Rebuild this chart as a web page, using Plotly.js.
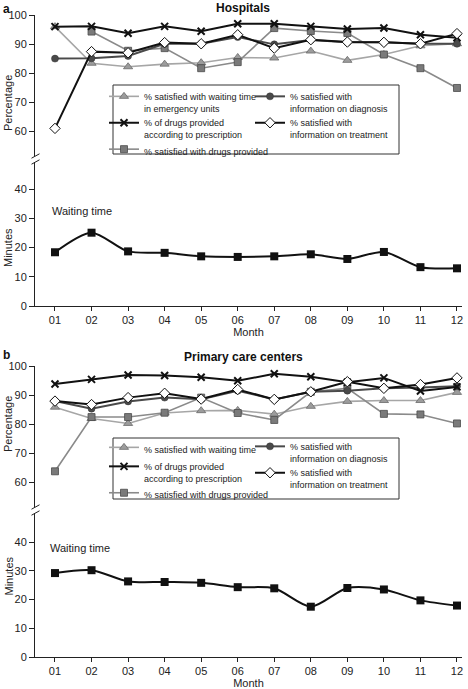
<!DOCTYPE html>
<html>
<head>
<meta charset="utf-8">
<script src="https://cdn.plot.ly/plotly-3.0.1.min.js"></script>
<style>html,body{margin:0;padding:0;background:#fff;}#chart{width:468px;height:689px;}</style>
</head>
<body>
<div id="chart"></div>
<script>
// ---------- data ----------
const months = ["01","02","03","04","05","06","07","08","09","10","11","12"];
const pctTicks = [60, 70, 80, 90, 100];
const minTicks = [0, 10, 20, 30, 40];

// Panel a: Hospitals
const hospWaitSat    = [96.0, 83.4, 82.2, 83.1, 83.6, 85.4, 85.2, 87.6, 84.4, 86.4, 89.4, 90.1];
const hospDrugsPresc = [96.0, 96.1, 93.7, 96.1, 94.4, 97.0, 97.0, 96.1, 95.2, 95.5, 93.2, 92.2];
const hospInfoDiag   = [85.0, 85.1, 85.9, 90.1, 90.1, 92.4, 89.9, 91.4, 90.6, 90.6, 90.1, 90.1];
const hospInfoTreat  = [61.0, 87.4, 87.0, 90.5, 90.1, 93.2, 88.6, 91.5, 90.7, 90.6, 90.1, 93.6];
const hospDrugsSat   = [null, 94.3, 87.7, 88.6, 81.7, 83.8, 95.5, 94.5, 93.8, 86.4, 81.7, 74.9];
const hospWaitMin    = [18.4, 25.1, 18.7, 18.2, 17.0, 16.8, 17.0, 17.7, 16.1, 18.5, 13.3, 12.9];

// Panel b: Primary care centers
const pccWaitSat     = [85.8, 81.9, 80.2, 83.8, 84.6, 84.7, 83.4, 86.1, 87.8, 88.1, 88.1, 90.9];
const pccDrugsPresc  = [93.8, 95.4, 96.9, 96.7, 96.1, 94.9, 97.3, 96.3, 94.4, 95.9, 91.4, 92.8];
const pccInfoDiag    = [87.9, 85.3, 87.8, 89.1, 88.5, 91.5, 88.5, 91.1, 91.5, 92.3, 92.6, 93.0];
const pccInfoTreat   = [87.9, 86.7, 89.1, 90.6, 88.6, 91.9, 88.5, 91.1, 94.6, 92.3, 93.6, 95.9];
const pccDrugsSat    = [63.7, 82.4, 82.4, 83.9, 89.1, 83.8, 81.4, 91.1, 92.3, 83.5, 83.3, 80.2];
const pccWaitMin     = [29.2, 30.2, 26.3, 26.1, 25.8, 24.3, 23.9, 17.5, 24.0, 23.5, 19.7, 17.9];

// labels
const lblWaitA  = "% satisfied with waiting time<br>in emergency units";
const lblWaitB  = "% satisfied with waiting time";
const lblPresc  = "% of drugs provided<br>according to prescription";
const lblDrugs  = "% satisfied with drugs provided";
const lblDiag   = "% satisfied with<br>information on diagnosis";
const lblTreat  = "% satisfied with<br>information on treatment";

// ---------- geometry helpers ----------
const W = 468, H = 689, ML = 35, MR = 6;
const PW = W - ML - MR;
const px = x => (x - ML) / PW;
const py = y => 1 - y / H;

const FONT = "'Liberation Sans', Arial, sans-serif";

const styles = {
  wait:  {mode:"lines+markers", line:{color:"#a6a6a6", width:1.6},
          marker:{symbol:"triangle-up", size:8, color:"#9c9c9c", line:{color:"#6a6a6a", width:0.8}}},
  drugs: {mode:"lines+markers", line:{color:"#8a8a8a", width:1.6},
          marker:{symbol:"square", size:7, color:"#7a7a7a", line:{color:"#4a4a4a", width:0.8}}},
  diag:  {mode:"lines+markers", line:{color:"#4a4a4a", width:2},
          marker:{symbol:"circle", size:7, color:"#4a4a4a", line:{color:"#333", width:0.5}}},
  presc: {mode:"lines+markers", line:{color:"#111", width:2},
          marker:{symbol:"x-thin", size:7, color:"#111", line:{color:"#111", width:2}}},
  treat: {mode:"lines+markers", line:{color:"#111", width:2},
          marker:{symbol:"diamond", size:8, color:"#fff", line:{color:"#111", width:1}}}
};

function tr(style, y, name, xa, ya, legend, rank) {
  return Object.assign({}, JSON.parse(JSON.stringify(style)), {
    x: months, y: y, name: name, xaxis: xa, yaxis: ya,
    legend: legend, legendrank: rank, cliponaxis: false, hoverinfo: "skip"
  });
}
function minTrace(y, xa, ya) {
  return {x: months, y: y, xaxis: xa, yaxis: ya, mode: "lines+markers", showlegend: false,
    line: {color: "#111", width: 2, shape: "spline", smoothing: 0.8},
    marker: {symbol: "square", size: 8, color: "#111"}, cliponaxis: false, hoverinfo: "skip"};
}

const data = [
  tr(styles.wait,  hospWaitSat,    lblWaitA, "x", "y", "legend", 1),
  tr(styles.drugs, hospDrugsSat,   lblDrugs, "x", "y", "legend", 3),
  tr(styles.diag,  hospInfoDiag,   lblDiag,  "x", "y", "legend2", 1),
  tr(styles.presc, hospDrugsPresc, lblPresc, "x", "y", "legend", 2),
  tr(styles.treat, hospInfoTreat,  lblTreat, "x", "y", "legend2", 2),
  minTrace(hospWaitMin, "x", "y2"),
  tr(styles.wait,  pccWaitSat,     lblWaitB, "x2", "y3", "legend3", 1),
  tr(styles.drugs, pccDrugsSat,    lblDrugs, "x2", "y3", "legend3", 3),
  tr(styles.diag,  pccInfoDiag,    lblDiag,  "x2", "y3", "legend4", 1),
  tr(styles.presc, pccDrugsPresc,  lblPresc, "x2", "y3", "legend3", 2),
  tr(styles.treat, pccInfoTreat,   lblTreat, "x2", "y3", "legend4", 2),
  minTrace(pccWaitMin, "x2", "y4")
];

const tickFont = {family: FONT, size: 11, color: "#222"};
function xAx(anchor) {
  return {domain:[0,1], anchor: anchor, type:"category", range:[-0.547, 11.137],
    showline:true, linecolor:"#222", linewidth:1, ticks:"outside", ticklen:4, tickcolor:"#222",
    showgrid:false, zeroline:false, tickfont: tickFont, fixedrange:true,
    title:{text:"Month", font:{family:FONT, size:11, color:"#222"}, standoff:1}};
}
function yAx(domain, range, tickvals) {
  return {domain: domain, anchor:"x", range: range, tickvals: tickvals,
    showline:true, linecolor:"#222", linewidth:1, ticks:"outside", ticklen:5, tickcolor:"#222",
    showgrid:false, zeroline:false, tickfont: tickFont, fixedrange:true};
}

const legFont = {family: FONT, size: 9, color: "#222"};
function leg(xp, yp) {
  return {x: px(xp), y: py(yp), xanchor:"left", yanchor:"top", bgcolor:"rgba(0,0,0,0)",
    borderwidth:0, font: legFont, itemwidth:30, tracegroupgap:0, orientation:"v", valign:"top"};
}

function breakMarks(yc) {
  return [yc - 3, yc + 3].map(y => ({type:"line", xref:"paper", yref:"paper",
    x0: px(31.5), y0: py(y + 2.2), x1: px(39.5), y1: py(y - 2.2),
    line:{color:"#222", width:1}, layer:"above"}));
}
function box(x0, y0, x1, y1) {
  return {type:"rect", xref:"paper", yref:"paper", x0: px(x0), x1: px(x1), y0: py(y1), y1: py(y0),
    line:{color:"#333", width:1}, fillcolor:"#fff", layer:"above"};
}
function ann(text, x, y, opts) {
  return Object.assign({text: text, xref:"paper", yref:"paper", x: px(x), y: py(y),
    showarrow:false, font:{family:FONT, size:11, color:"#222"}}, opts || {});
}

const layout = {
  width: W, height: H, margin: {l: ML, r: MR, t: 0, b: 0},
  paper_bgcolor: "#fff", plot_bgcolor: "#fff", showlegend: true,
  title: {text: "<b>Hospitals</b>", font: {family: FONT, size: 12, color: "#111"},
    xref: "paper", x: px(243), xanchor: "center", yref: "container", y: py(7.5), yanchor: "middle"},
  xaxis: xAx("y2"),
  xaxis2: xAx("y4"),
  yaxis:  yAx([py(156), py(15)], [51.5, 100], pctTicks),
  yaxis2: yAx([py(306), py(162)], [0, 49.3], minTicks),
  yaxis3: Object.assign(yAx([py(507), py(366)], [51.4, 100], pctTicks), {anchor:"x2"}),
  yaxis4: Object.assign(yAx([py(657), py(513)], [0, 50.1], minTicks), {anchor:"x2"}),
  legend:  leg(104, 84),
  legend2: leg(250, 84),
  legend3: leg(104, 435),
  legend4: leg(250, 434),
  shapes: [].concat(
    breakMarks(159), breakMarks(510),
    [box(113, 85, 399, 154), box(113, 438, 399, 499)]
  ),
  annotations: [
    ann("<b>a</b>", 1, 0, {xanchor:"left", yanchor:"top", font:{family:FONT, size:12, color:"#111"}}),
    ann("<b>b</b>", 1, 346, {xanchor:"left", yanchor:"top", font:{family:FONT, size:12, color:"#111"}}),
    ann("<b>Primary care centers</b>", 243, 357, {font:{family:FONT, size:12, color:"#111"}}),
    ann("Waiting time", 50, 203, {xanchor:"left"}),
    ann("Waiting time", 48, 556, {xanchor:"left"}),
    ann("Percentage", 0, 73, {textangle:-90, xanchor:"left"}),
    ann("Minutes", 0, 248, {textangle:-90, xanchor:"left"}),
    ann("Percentage", 0, 424, {textangle:-90, xanchor:"left"}),
    ann("Minutes", 0, 598, {textangle:-90, xanchor:"left"})
  ]
};

Plotly.newPlot("chart", data, layout, {staticPlot: true, displayModeBar: false});
</script>
</body>
</html>
